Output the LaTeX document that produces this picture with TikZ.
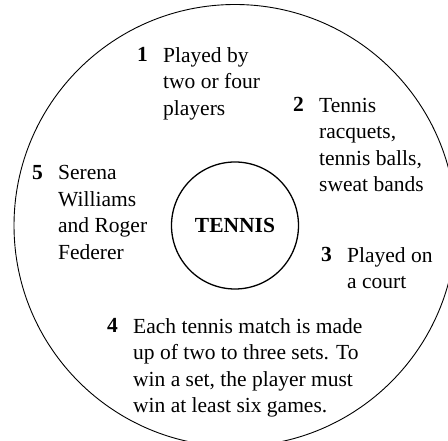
\documentclass[tikz,border=0pt]{standalone}
\usepackage{fontspec}
\setmainfont{Liberation Serif}
\begin{document}
\begin{tikzpicture}[x=1pt,y=1pt,
  numtext/.style={anchor=base west,inner sep=0pt,font=\fontsize{21.5}{26.4}\selectfont\bfseries},
  item/.style={anchor=north west,inner sep=0pt,align=left,font=\fontsize{21.5}{26.4}\selectfont},
  hubtext/.style={inner sep=0pt,font=\fontsize{21.5}{26.4}\selectfont\bfseries},
  hubline/.style={line width=1.3pt},
  rimline/.style={line width=0.9pt}]
\useasboundingbox (0,0) rectangle (448,441);
\coordinate (c) at (235,215.5);
\draw[rimline] (c) circle[radius=221];
\draw[hubline] (c) circle[radius=63.5];
\node[hubtext] (hub) at (c) {TENNIS};
\node[numtext] (n1) at (137,379) {1};
\node[item] (i1) at (163,393.7) {Played by\\two or four\\players};
\node[numtext] (n2) at (293,329) {2};
\node[item] (i2) at (319,343.2) {Tennis\\racquets,\\tennis balls,\\sweat bands};
\node[numtext] (n3) at (321,179) {3};
\node[item] (i3) at (347,193.7) {Played on\\a court};
\node[numtext] (n4) at (107,108) {4};
\node[item] (i4) at (133,122.7) {Each tennis match is made\\up of two to three sets. To\\win a set, the player must\\win at least six games.};
\node[numtext] (n5) at (32,261) {5};
\node[item] (i5) at (58,275.5) {Serena\\Williams\\and Roger\\Federer};
\end{tikzpicture}
\end{document}
